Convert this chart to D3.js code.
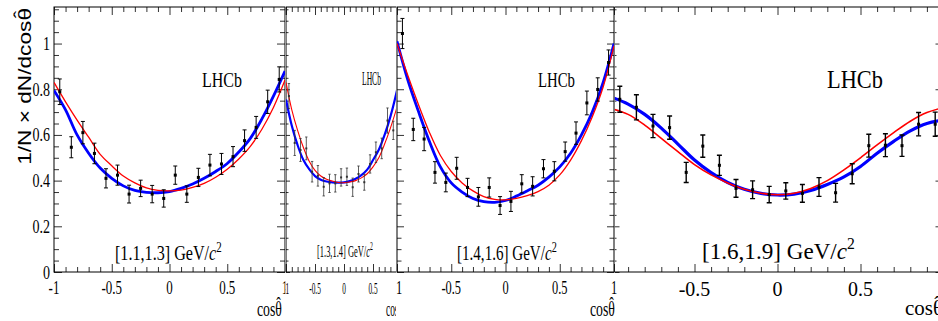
<!DOCTYPE html>
<html>
<head>
<meta charset="utf-8">
<script src="https://cdn.jsdelivr.net/npm/d3@7"></script>
<style>
  html, body { margin: 0; padding: 0; background: #fff; }
  svg { display: block; }
</style>
</head>
<body>
<svg id="chart" width="938" height="321"></svg>
<script>
// ---------- data ----------
const binCentres = [-0.95, -0.85, -0.75, -0.65, -0.55, -0.45, -0.35, -0.25, -0.15, -0.05,
                     0.05,  0.15,  0.25,  0.35,  0.45,  0.55,  0.65,  0.75,  0.85,  0.95];
const fitGrid = [-1, -0.9, -0.8, -0.7, -0.6, -0.5, -0.4, -0.3, -0.2, -0.1, 0,
                  0.1, 0.2, 0.3, 0.4, 0.5, 0.6, 0.7, 0.8, 0.9, 1];

const massBins = ["[1.1,1.3]", "[1.3,1.4]", "[1.4,1.6]", "[1.6,1.9]"];

// [1.1,1.3] GeV/c^2
const p1Values = [0.789, 0.546, 0.610, 0.519, 0.410, 0.424, 0.341, 0.366, 0.341, 0.322,
                  0.424, 0.341, 0.414, 0.468, 0.473, 0.505, 0.575, 0.633, 0.745, 0.843];
const p1Errors = [0.056, 0.046, 0.049, 0.045, 0.042, 0.044, 0.039, 0.036, 0.038, 0.038,
                  0.040, 0.036, 0.040, 0.047, 0.046, 0.044, 0.047, 0.048, 0.051, 0.055];
const p1Blue = [0.795, 0.71, 0.60, 0.52, 0.455, 0.41, 0.377, 0.357, 0.349, 0.347, 0.352,
                0.366, 0.385, 0.41, 0.44, 0.475, 0.525, 0.585, 0.67, 0.77, 0.88];
const p1Red  = [0.83, 0.745, 0.665, 0.59, 0.515, 0.465, 0.42, 0.39, 0.368, 0.357, 0.355,
                0.358, 0.37, 0.388, 0.415, 0.45, 0.495, 0.55, 0.625, 0.72, 0.84];

// [1.3,1.4] GeV/c^2
const p2Values = [0.770, 0.565, 0.534, 0.541, 0.439, 0.421, 0.373, 0.388, 0.388, 0.414,
                  0.417, 0.371, 0.429, 0.393, 0.473, 0.524, 0.541, 0.663, 0.620, 0.750];
const p2Errors = [0.055, 0.055, 0.050, 0.050, 0.045, 0.045, 0.040, 0.040, 0.038, 0.038,
                  0.038, 0.040, 0.035, 0.035, 0.040, 0.045, 0.045, 0.055, 0.040, 0.060];
const p2Blue = [0.755, 0.64, 0.555, 0.49, 0.45, 0.42, 0.404, 0.396, 0.392, 0.391, 0.392,
                0.398, 0.408, 0.424, 0.448, 0.49, 0.535, 0.60, 0.68, 0.78, 0.90];
const p2Red  = [0.83, 0.71, 0.62, 0.545, 0.485, 0.445, 0.42, 0.406, 0.398, 0.392, 0.391,
                0.394, 0.40, 0.412, 0.43, 0.46, 0.50, 0.56, 0.63, 0.71, 0.80];

// [1.4,1.6] GeV/c^2
const p3Values = [1.044, 0.624, 0.582, 0.436, 0.392, 0.454, 0.370, 0.329, 0.370, 0.291,
                  0.309, 0.386, 0.375, 0.452, 0.441, 0.527, 0.608, 0.740, 0.799, 0.917];
const p3Errors = [0.066, 0.049, 0.051, 0.047, 0.041, 0.048, 0.040, 0.041, 0.042, 0.039,
                  0.044, 0.040, 0.042, 0.040, 0.042, 0.042, 0.049, 0.052, 0.051, 0.055];
const p3Blue = [1.01, 0.84, 0.70, 0.57, 0.46, 0.39, 0.35, 0.322, 0.308, 0.305, 0.313,
                0.332, 0.355, 0.38, 0.415, 0.46, 0.52, 0.60, 0.70, 0.83, 1.0];
const p3Red  = [1.0, 0.86, 0.73, 0.61, 0.51, 0.44, 0.39, 0.355, 0.33, 0.318, 0.316,
                0.322, 0.334, 0.352, 0.38, 0.425, 0.49, 0.575, 0.68, 0.81, 0.99];

// [1.6,1.9] GeV/c^2
const p4Values = [0.756, 0.721, 0.639, 0.632, 0.436, 0.551, 0.467, 0.366, 0.360, 0.339,
                  0.355, 0.344, 0.372, 0.347, 0.430, 0.553, 0.555, 0.553, 0.647, 0.647];
const p4Errors = [0.057, 0.055, 0.051, 0.051, 0.044, 0.049, 0.044, 0.039, 0.039, 0.036,
                  0.036, 0.039, 0.041, 0.041, 0.044, 0.050, 0.050, 0.047, 0.051, 0.053];
const p4Blue = [0.765, 0.735, 0.69, 0.63, 0.56, 0.49, 0.435, 0.392, 0.362, 0.344, 0.337,
                0.341, 0.357, 0.383, 0.416, 0.462, 0.52, 0.572, 0.618, 0.65, 0.665];
const p4Red  = [0.715, 0.69, 0.643, 0.585, 0.527, 0.47, 0.425, 0.39, 0.362, 0.345, 0.338,
                0.345, 0.366, 0.40, 0.447, 0.50, 0.556, 0.61, 0.66, 0.698, 0.72];

// axis ticks
const xMajor = [-1, -0.5, 0, 0.5, 1];
const xMajorLabels = ["-1", "-0.5", "0", "0.5", "1"];
const xMinor = [-0.9, -0.8, -0.7, -0.6, -0.4, -0.3, -0.2, -0.1,
                 0.1, 0.2, 0.3, 0.4, 0.6, 0.7, 0.8, 0.9];
const yMajor = [0, 0.2, 0.4, 0.6, 0.8, 1];
const yMajorLabels = ["0", "0.2", "0.4", "0.6", "0.8", "1"];
const yMinor = [0.05, 0.1, 0.15, 0.25, 0.3, 0.35, 0.45, 0.5, 0.55, 0.65, 0.7, 0.75,
                0.85, 0.9, 0.95, 1.05, 1.1, 1.15];

// ---------- layout ----------
const W = 938, H = 321;
const Y_TOP = 7, Y_BOT = 272, Y_MAX = 1.16;
const SERIF = "'Liberation Serif', 'Times New Roman', serif";
const SANS = "'Liberation Sans', Arial, sans-serif";
const BLUE = "#0000ff", RED = "#ff0000";

const svg = d3.select("#chart");
const defs = svg.append("defs");

// "cos theta-hat": the hat is a separate spacing circumflex lifted over the theta
const cosThetaHat = size => [
  { t: "cos\u03b8" },
  { t: "\u02c6", dx: -0.42 * size, dy: -0.2 * size }
];

// text that is squeezed horizontally to a given width (or by a fixed factor)
function fitText(parent, o) {
  const t = parent.append("text")
    .attr("font-family", o.family || SERIF)
    .attr("font-size", o.size)
    .attr("text-anchor", o.anchor || "start")
    .attr("fill", "#000");
  (o.parts || [{ t: o.text }]).forEach(p => {
    const ts = t.append("tspan").text(p.t);
    if (p.italic) ts.attr("font-style", "italic");
    if (p.sup) ts.attr("font-size", o.size * 0.68).attr("dy", -o.size * 0.42);
    if (p.dx != null) ts.attr("dx", p.dx);
    if (p.dy != null) ts.attr("dy", p.dy);
  });
  let sx = o.sx || 1;
  if (o.w) sx = o.w / t.node().getBBox().width;
  t.attr("transform",
    `translate(${o.x},${o.y})` + (o.rotate ? ` rotate(${o.rotate})` : "") + ` scale(${sx},1)`);
  return t;
}

const panels = [
  { id: 1, label: massBins[0], values: p1Values, errors: p1Errors, blue: p1Blue, red: p1Red,
    x0: 54, x1: 285, clip: [0, 285.5], bg: [0, 285.5],
    tickX: 8, tickXm: 5, tickY: 8, tickYm: 5, tickSx: 0.72, tickSize: 18, tickBase: 294,
    lhcb: { x: 202, y: 87, w: 40, size: 21 },
    mass: { x: 115, y: 260, w: 107, size: 20 },
    title: { x: 257, y: 316, w: 25, size: 21 },
    blueW: 2.8, redW: 1.3, errW: 1, cap: 2, mark: 3, yLabels: true },
  { id: 2, label: massBins[1], values: p2Values, errors: p2Errors, blue: p2Blue, red: p2Red,
    x0: 286, x1: 402, clip: [285.5, 396], bg: [285.5, 396], skipLabels: [4],
    tickX: 8, tickXm: 5, tickY: 4, tickYm: 2.5, tickSx: 0.43, tickSize: 17, tickBase: 294,
    lhcb: { x: 362, y: 85, w: 19, size: 19 },
    mass: { x: 317, y: 257, w: 56, size: 17 },
    title: { x: 386, y: 316, w: 17, size: 21 },
    blueW: 2.2, redW: 1.1, errW: 0.8, cap: 1.2, mark: 2, errColor: "#333" },
  { id: 4, label: massBins[3], values: p4Values, errors: p4Errors, blue: p4Blue, red: p4Red,
    x0: 611.5, x1: 943.5, clip: [614.5, 938], bg: [614.5, 938], skipLabels: [0, 4],
    tickX: 8, tickXm: 5, tickY: 8, tickYm: 5, tickSx: 0.95, tickSize: 21, tickBase: 296,
    lhcb: { x: 827, y: 88, w: 56, size: 25 },
    mass: { x: 702, y: 259, w: 153, size: 24 },
    title: { x: 905, y: 315, w: 38, size: 22 },
    blueW: 3.2, redW: 1.6, errW: 1.4, cap: 2.5, mark: 3 },
  { id: 3, label: massBins[2], values: p3Values, errors: p3Errors, blue: p3Blue, red: p3Red,
    x0: 397, x1: 614, clip: [396, 622], bg: [396, 614.5],
    tickX: 8, tickXm: 5, tickY: 7, tickYm: 4.5, tickSx: 0.69, tickSize: 18, tickBase: 294,
    lhcb: { x: 538, y: 87, w: 37, size: 21 },
    mass: { x: 457, y: 260, w: 100, size: 20 },
    title: { x: 590, y: 316, w: 25, size: 21 },
    blueW: 2.8, redW: 1.3, errW: 1, cap: 2, mark: 3 }
];

panels.forEach(p => {
  defs.append("clipPath").attr("id", "panel" + p.id)
    .append("rect").attr("x", p.clip[0]).attr("y", 0)
    .attr("width", p.clip[1] - p.clip[0]).attr("height", H);
  defs.append("clipPath").attr("id", "plot" + p.id)
    .append("rect").attr("x", p.x0).attr("y", Y_TOP)
    .attr("width", p.x1 - p.x0).attr("height", Y_BOT - Y_TOP);

  const g = svg.append("g").attr("clip-path", `url(#panel${p.id})`);
  g.append("rect").attr("x", p.bg[0]).attr("y", 0)
    .attr("width", p.bg[1] - p.bg[0]).attr("height", H).attr("fill", "#fff");

  const x = d3.scaleLinear().domain([-1, 1]).range([p.x0, p.x1]);
  const y = d3.scaleLinear().domain([0, Y_MAX]).range([Y_BOT, Y_TOP]);

  // ticks on all four sides, pointing inwards
  const tickStyle = sel => {
    sel.select(".domain").remove();
    sel.selectAll(".tick line").attr("stroke", "#333").attr("stroke-width", 1);
    sel.selectAll(".tick text").remove();
  };
  const axes = [
    [d3.axisBottom(x), `translate(0,${Y_BOT})`, xMajor, p.tickX],
    [d3.axisBottom(x), `translate(0,${Y_BOT})`, xMinor, p.tickXm],
    [d3.axisTop(x), `translate(0,${Y_TOP})`, xMajor, p.tickX],
    [d3.axisTop(x), `translate(0,${Y_TOP})`, xMinor, p.tickXm],
    [d3.axisLeft(y), `translate(${p.x0},0)`, yMajor, p.tickY],
    [d3.axisLeft(y), `translate(${p.x0},0)`, yMinor, p.tickYm],
    [d3.axisRight(y), `translate(${p.x1},0)`, yMajor, p.tickY],
    [d3.axisRight(y), `translate(${p.x1},0)`, yMinor, p.tickYm]
  ];
  axes.forEach(([ax, tr, vals, len]) => {
    g.append("g").attr("transform", tr)
      .call(ax.tickValues(vals).tickSize(-len).tickFormat(""))
      .call(tickStyle);
  });

  // frame
  g.append("rect").attr("x", p.x0).attr("y", Y_TOP)
    .attr("width", p.x1 - p.x0).attr("height", Y_BOT - Y_TOP)
    .attr("fill", "none").attr("stroke", "#000").attr("stroke-width", 1);

  // fitted curves
  const plot = g.append("g").attr("clip-path", `url(#plot${p.id})`);
  const line = arr => d3.line()
    .x((d, i) => x(fitGrid[i])).y(d => y(d))
    .curve(d3.curveCatmullRom.alpha(0.5))(arr);
  plot.append("path").attr("d", line(p.blue)).attr("fill", "none")
    .attr("stroke", BLUE).attr("stroke-width", p.blueW);
  plot.append("path").attr("d", line(p.red)).attr("fill", "none")
    .attr("stroke", RED).attr("stroke-width", p.redW);

  // data points with error bars
  const ec = p.errColor || "#000";
  const pts = plot.selectAll("g.pt").data(p.values).join("g").attr("class", "pt");
  pts.append("line")
    .attr("x1", (d, i) => x(binCentres[i])).attr("x2", (d, i) => x(binCentres[i]))
    .attr("y1", (d, i) => y(d - p.errors[i])).attr("y2", (d, i) => y(d + p.errors[i]))
    .attr("stroke", ec).attr("stroke-width", p.errW);
  [-1, 1].forEach(s => {
    pts.append("line")
      .attr("x1", (d, i) => x(binCentres[i]) - p.cap).attr("x2", (d, i) => x(binCentres[i]) + p.cap)
      .attr("y1", (d, i) => y(d + s * p.errors[i])).attr("y2", (d, i) => y(d + s * p.errors[i]))
      .attr("stroke", ec).attr("stroke-width", p.errW);
  });
  pts.append("rect")
    .attr("x", (d, i) => x(binCentres[i]) - p.mark / 2).attr("y", d => y(d) - p.mark / 2)
    .attr("width", p.mark).attr("height", p.mark).attr("fill", ec);

  // x tick labels
  xMajor.forEach((v, i) => {
    if (p.skipLabels && p.skipLabels.includes(i)) return;
    fitText(g, { x: x(v), y: p.tickBase, text: xMajorLabels[i], size: p.tickSize,
                 anchor: "middle", sx: p.tickSx });
  });

  // y tick labels and title (first panel only)
  if (p.yLabels) {
    yMajor.forEach((v, i) => {
      fitText(g, { x: 50, y: y(v) + 6.5, text: yMajorLabels[i], size: 18, anchor: "end", sx: 0.78 });
    });
    fitText(g, { x: 31, y: 8, size: 19, anchor: "end", family: SANS, rotate: -90, w: 157,
                 parts: [{ t: "1/N \u00d7 dN/dcos\u03b8" },
                         { t: "\u02c6", dx: -0.45 * 19, dy: -0.2 * 19 }] });
  }

  // annotations
  fitText(g, { x: p.lhcb.x, y: p.lhcb.y, text: "LHCb", size: p.lhcb.size, w: p.lhcb.w });
  fitText(g, { x: p.mass.x, y: p.mass.y, size: p.mass.size, w: p.mass.w,
               parts: [{ t: p.label + " GeV/" }, { t: "c", italic: true }, { t: "2", sup: true }] });
  fitText(g, { x: p.title.x, y: p.title.y, size: p.title.size, w: p.title.w,
               parts: cosThetaHat(p.title.size) });
});
</script>
</body>
</html>
